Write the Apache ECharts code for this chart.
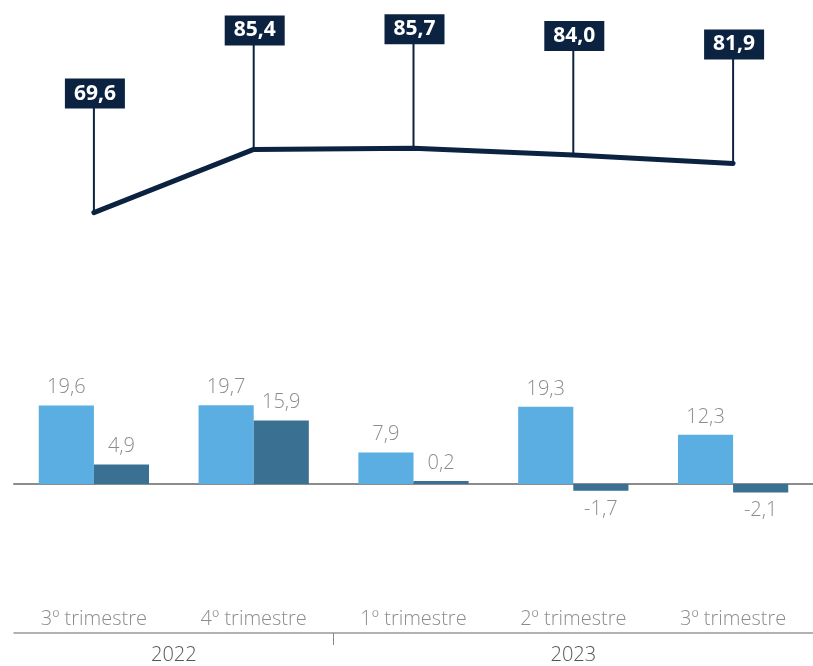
<!DOCTYPE html>
<html>
<head>
<meta charset="utf-8">
<script src="https://cdn.jsdelivr.net/npm/echarts@6/dist/echarts.min.js"></script>
<style>
  html, body { margin: 0; padding: 0; background: #fff; }
  #main { width: 813px; height: 666px; }
</style>
</head>
<body>
<div id="main"></div>
<script>
// dados
var trimestres = ['3º trimestre', '4º trimestre', '1º trimestre', '2º trimestre', '3º trimestre'];
var anos = ['2022', '2023'];
var anosPos = [1, 3.5];          // centro de cada ano no eixo (em categorias)
var separador = [2];             // fronteira entre 2022 e 2023
var indice = [69.6, 85.4, 85.7, 84.0, 81.9];
var serieA = [19.6, 19.7, 7.9, 19.3, 12.3];
var serieB = [4.9, 15.9, 0.2, -1.7, -2.1];

var azulEscuro = '#0b2341';
var cinza = '#8c8c8c';

function fmt(v) { return v.toFixed(1).replace('.', ','); }

function barData(arr) {
  return arr.map(function (v) {
    return v < 0 ? { value: v, label: { position: 'bottom' } } : v;
  });
}

var myChart = echarts.init(document.getElementById('main'));

myChart.setOption({
  animation: false,
  textStyle: { fontFamily: 'Open Sans' },
  grid: [
    { left: 14, right: 0, top: 131, height: 120 },   // linha
    { left: 14, right: 0, top: 384, height: 120 },   // barras
    { left: 14, right: 0, top: 600, height: 33 }     // eixo de rótulos
  ],
  xAxis: [
    { type: 'category', gridIndex: 0, data: trimestres, show: false },
    {
      type: 'category', gridIndex: 1, data: trimestres,
      axisLine: { onZero: true, lineStyle: { color: '#8c8c8c', width: 2 } },
      axisTick: { show: false }, axisLabel: { show: false }
    },
    {
      type: 'category', gridIndex: 2, data: trimestres, position: 'bottom',
      axisLine: { lineStyle: { color: '#999', width: 1.5 } },
      axisTick: {
        inside: true, length: 10, alignWithLabel: false,
        interval: function (i) { return separador.indexOf(i) >= 0; },
        lineStyle: { color: '#888' }
      },
      axisLabel: { inside: true, margin: 4, color: cinza, fontSize: 20, fontWeight: 300 }
    },
    {
      type: 'value', gridIndex: 2, position: 'bottom', min: 0, max: 5,
      splitLine: { show: false },
      axisLine: { show: false },
      axisTick: { show: true, customValues: separador, length: 12, lineStyle: { color: '#888' } },
      axisLabel: {
        customValues: anosPos, margin: 12, color: '#555', fontSize: 20, fontWeight: 300,
        formatter: function (v) { return anos[anosPos.indexOf(v)]; }
      }
    }
  ],
  yAxis: [
    { type: 'value', gridIndex: 0, min: 60, max: 90, show: false },
    { type: 'value', gridIndex: 1, min: -5, max: 25, show: false },
    { type: 'value', gridIndex: 2, show: false }
  ],
  series: [
    {
      type: 'line', xAxisIndex: 0, yAxisIndex: 0, data: indice,
      symbol: 'none', silent: true,
      lineStyle: { color: azulEscuro, width: 5, cap: 'round', join: 'round' },
      z: 2
    },
    {
      type: 'custom', xAxisIndex: 0, yAxisIndex: 0, silent: true, z: 3,
      data: indice.map(function (v, i) { return [i, v]; }),
      renderItem: function (params, api) {
        var pt = api.coord([api.value(0), api.value(1)]);
        var txt = fmt(api.value(1));
        return {
          type: 'group',
          children: [
            { type: 'line', shape: { x1: pt[0], y1: pt[1], x2: pt[0], y2: pt[1] - 106 },
              style: { stroke: azulEscuro, lineWidth: 2 } },
            { type: 'rect', shape: { x: pt[0] - 29, y: pt[1] - 134, width: 60, height: 30 },
              style: { fill: azulEscuro } },
            { type: 'text', style: { text: txt, x: pt[0] + 1, y: pt[1] - 119, align: 'center',
              verticalAlign: 'middle', fill: '#fff', font: 'bold 21px "Open Sans"' } }
          ]
        };
      }
    },
    {
      type: 'bar', xAxisIndex: 1, yAxisIndex: 1, data: barData(serieA),
      barGap: 0, barCategoryGap: '31%', barMinHeight: 3,
      itemStyle: { color: '#5aaee2' },
      label: { show: true, position: 'top', distance: 8, color: cinza, fontSize: 20, fontWeight: 300,
        formatter: function (p) { return fmt(p.value); } }
    },
    {
      type: 'bar', xAxisIndex: 1, yAxisIndex: 1, data: barData(serieB),
      barGap: 0, barCategoryGap: '31%', barMinHeight: 3,
      itemStyle: { color: '#3a7091' },
      label: { show: true, position: 'top', distance: 8, color: cinza, fontSize: 20, fontWeight: 300,
        formatter: function (p) { return fmt(p.value); } }
    }
  ]
});
</script>
</body>
</html>
